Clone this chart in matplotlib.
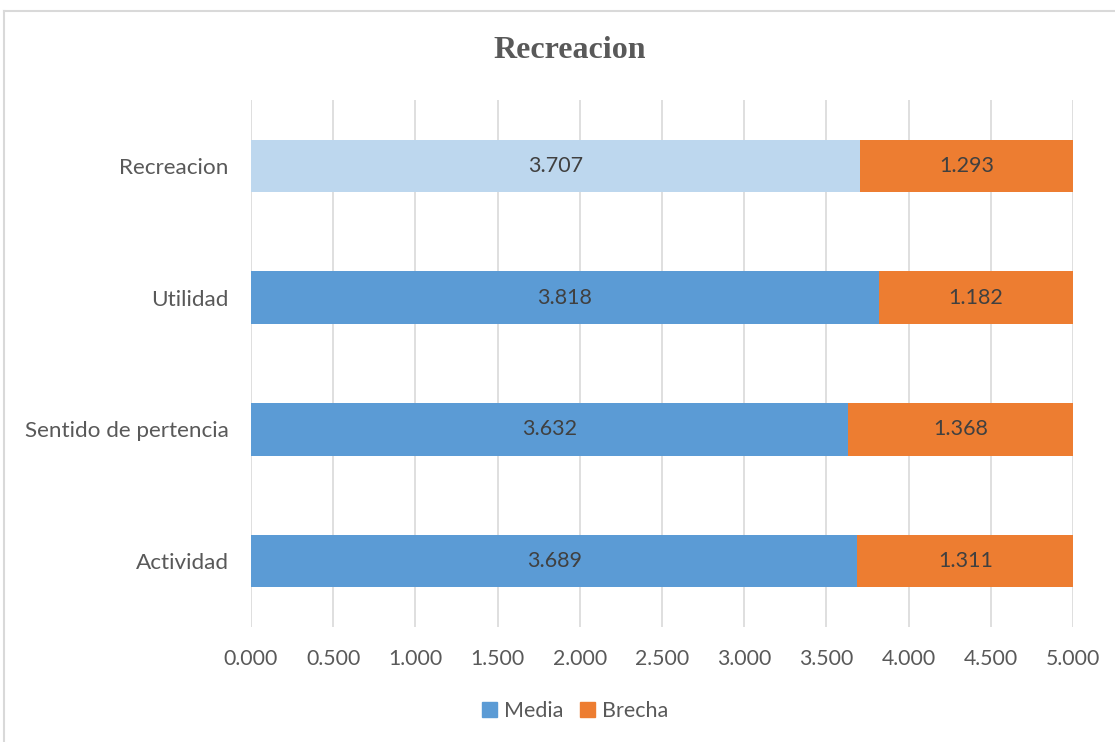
import matplotlib.pyplot as plt
from matplotlib.patches import Patch
from matplotlib.lines import Line2D
import numpy as np

# data
categories = ['Actividad', 'Sentido de pertencia', 'Utilidad', 'Recreacion']
media = [3.689, 3.632, 3.818, 3.707]
brecha = [1.311, 1.368, 1.182, 1.293]
ticks = [0.0, 0.5, 1.0, 1.5, 2.0, 2.5, 3.0, 3.5, 4.0, 4.5, 5.0]

blue = '#5B9BD5'
light_blue = '#BDD7EE'
orange = '#ED7D31'
grey_txt = '#595959'

plt.rcParams['font.family'] = ['Lato', 'DejaVu Sans']

fig = plt.figure(figsize=(11.15, 7.42), dpi=100)
ax = fig.add_axes([251/1115, 1 - 627/742, (1073 - 251)/1115, (627 - 100)/742])

y = np.arange(len(categories))
media_colors = [blue, blue, blue, light_blue]
ax.barh(y, media, height=0.4, color=media_colors, zorder=3)
ax.barh(y, brecha, left=media, height=0.4, color=orange, zorder=3)

for i in range(len(categories)):
    ax.text(media[i] / 2, y[i], '%.3f' % media[i], ha='center', va='center',
            fontsize=15.5, color='#404040', zorder=4)
    ax.text(media[i] + brecha[i] / 2, y[i], '%.3f' % brecha[i], ha='center',
            va='center', fontsize=15.5, color='#404040', zorder=4)

ax.set_xlim(0, 5)
ax.set_ylim(-0.5, 3.5)
ax.set_xticks(ticks)
ax.set_xticklabels(['%.3f' % t for t in ticks], fontsize=15.3, color=grey_txt)
ax.set_yticks(y)
ax.set_yticklabels(categories, fontsize=16.2, color=grey_txt)
ax.tick_params(axis='x', length=0, pad=16)
ax.tick_params(axis='y', length=0, pad=16)
ax.grid(axis='x', color='#D9D9D9', linewidth=1.2, zorder=0)
for s in ax.spines.values():
    s.set_visible(False)

fig.text(570/1115, 1 - 50/742, 'Recreacion', ha='center', va='center',
         fontsize=23, fontweight='bold', color=grey_txt, family='Liberation Serif')

handles = [Patch(color=blue), Patch(color=orange)]
fig.legend(handles, ['Media', 'Brecha'], loc='center', bbox_to_anchor=(575/1115, 1 - 711/742),
           ncol=2, frameon=False, fontsize=15.5, handlelength=0.7, handleheight=0.7,
           handletextpad=0.3, columnspacing=0.8, labelcolor=grey_txt)

# chart border (clipped at right and bottom like the reference)
fig.add_artist(Line2D([4/1115, 1], [1 - 11/742, 1 - 11/742], color='#D9D9D9', lw=1.5))
fig.add_artist(Line2D([4/1115, 4/1115], [0, 1 - 11/742], color='#D9D9D9', lw=1.5))

fig.savefig('out.png', dpi=100, facecolor='white')
